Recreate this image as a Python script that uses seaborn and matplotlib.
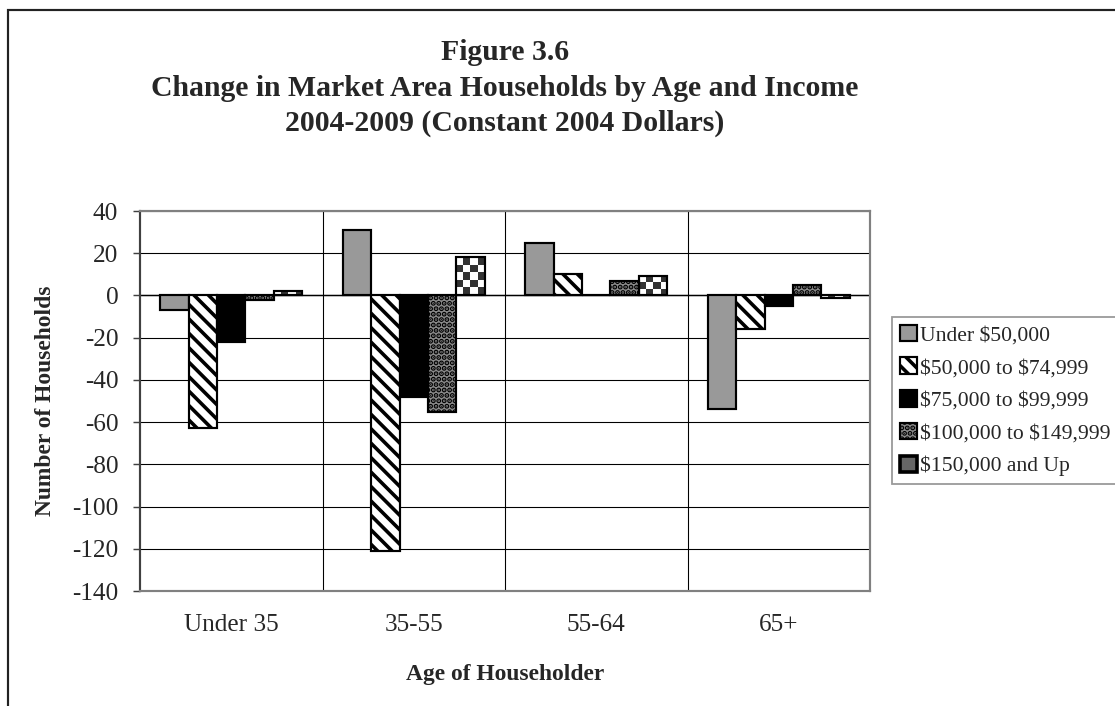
import numpy as np
import pandas as pd
import matplotlib
matplotlib.use("Agg")
import matplotlib.pyplot as plt
from matplotlib.patches import Patch, Rectangle
from matplotlib.colors import ListedColormap
import seaborn as sns

# data (number of households, change 2004-2009)
ages = ["Under 35", "35-55", "55-64", "65+"]
incomes = ["Under $50,000", "$50,000 to $74,999", "$75,000 to $99,999",
           "$100,000 to $149,999", "$150,000 and Up"]
under_50k = [-7, 31, 25, -54]
inc_50_75k = [-63, -121, 10, -16]
inc_75_100k = [-22, -48, 0, -5]
inc_100_150k = [-2, -55, 7, 5]
inc_150k_up = [2, 18, 9, -1]
y_ticks = list(range(-140, 41, 20))

series = [under_50k, inc_50_75k, inc_75_100k, inc_100_150k, inc_150k_up]
df = pd.DataFrame({
    "age": ages * len(incomes),
    "income": [inc for inc in incomes for _ in ages],
    "change": [v for s in series for v in s],
})

sns.set_style("white")
plt.rcParams["font.family"] = ["Liberation Serif", "DejaVu Serif"]
plt.rcParams["text.parse_math"] = False
plt.rcParams["axes.unicode_minus"] = False
plt.rcParams["hatch.linewidth"] = 2.0

W, H, DPI = 1115, 706, 130
fig = plt.figure(figsize=(W / DPI, H / DPI), dpi=DPI)
ax = fig.add_axes([140 / W, 1 - 591 / H, 730 / W, 380 / H])

# fill / hatch per income band
styles = [
    dict(facecolor="#999999", hatch=None),
    dict(facecolor="white", hatch="\\\\\\"),
    dict(facecolor="black", hatch=None),
    dict(facecolor="#8c8c8c", hatch="...."),
    dict(facecolor="none", hatch=None),
]

sns.barplot(data=df, x="age", y="change", hue="income", order=ages,
            hue_order=incomes, width=0.78, errorbar=None, legend=False,
            palette=["#999999"] * 5, saturation=1, edgecolor="black",
            linewidth=1.2, ax=ax)

for cont, st in zip(ax.containers, styles):
    for bar in cont:
        bar.set_facecolor(st["facecolor"])
        if st["hatch"]:
            bar.set_hatch(st["hatch"])

ax.set_xlim(-0.5, len(ages) - 0.5)
ax.set_ylim(-140, 40)
ax.set_yticks(y_ticks)
ax.set_xticks(np.arange(len(ages) - 1) + 0.5, minor=True)

# checkerboard fill for the top income band, clipped to each bar
checker_cmap = ListedColormap(["white", "#333333"])
for bar in ax.containers[4]:
    bb = bar.get_window_extent()
    nc = max(1, int(round(bb.width / 7)))
    nr = max(1, int(round(abs(bb.height) / 7)))
    grid = np.indices((nr, nc)).sum(axis=0) % 2
    x0, w = bar.get_x(), bar.get_width()
    y0, h = bar.get_y(), bar.get_height()
    im = ax.imshow(grid, cmap=checker_cmap, aspect="auto",
                   interpolation="nearest", origin="upper",
                   extent=(x0, x0 + w, min(y0, y0 + h), max(y0, y0 + h)),
                   zorder=bar.get_zorder() - 0.01)
    im.set_clip_path(bar)
ax.set_xlim(-0.5, len(ages) - 0.5)
ax.set_ylim(-140, 40)

ax.set_axisbelow(True)
ax.grid(axis="y", which="major", color="black", lw=0.6)
ax.grid(axis="x", which="minor", color="black", lw=0.6)
ax.grid(axis="x", which="major", visible=False)
ax.axhline(0, color="black", lw=0.8, zorder=0.6)

for side in ["top", "right", "bottom"]:
    ax.spines[side].set_color("#808080")
    ax.spines[side].set_linewidth(1.2)
ax.spines["left"].set_color("#404040")
ax.spines["left"].set_linewidth(1.2)

ax.tick_params(axis="y", which="major", left=True, length=4, width=0.8,
               color="#404040", pad=8, labelsize=14)
ax.tick_params(axis="x", which="both", bottom=False, length=0, pad=13,
               labelsize=14)

ax.set_xlabel("Age of Householder", fontsize=13, fontweight="bold")
ax.xaxis.set_label_coords(0.5, -0.221)
ax.xaxis.label.set_va("center")
ax.set_ylabel("Number of Households", fontsize=13, fontweight="bold")
ax.yaxis.set_label_coords(-0.130, 0.5)
ax.yaxis.label.set_va("center")

# legend
handles = []
for st in styles[:4]:
    handles.append(Patch(facecolor=st["facecolor"], hatch=st["hatch"],
                         edgecolor="black", linewidth=1.2))
handles.append(Patch(facecolor="#666666", edgecolor="black", linewidth=2.0))
leg = fig.legend(handles, incomes, loc="upper left",
                 bbox_to_anchor=(892 / W, 1 - 317 / H), fontsize=12,
                 frameon=True, fancybox=False, shadow=False,
                 handlelength=0.8, handleheight=0.8, handletextpad=0.15,
                 labelspacing=0.55, borderpad=0.35, borderaxespad=0)
leg.get_frame().set_edgecolor("#808080")
leg.get_frame().set_linewidth(1.0)

# titles
title_x = (140 + 870) / 2 / W
fig.text(title_x, 1 - 53 / H, "Figure 3.6", ha="center", va="center",
         fontsize=16.5, fontweight="bold")
fig.text(title_x, 1 - 88 / H,
         "Change in Market Area Households by Age and Income",
         ha="center", va="center", fontsize=16.5, fontweight="bold")
fig.text(title_x, 1 - 123 / H, "2004-2009 (Constant 2004 Dollars)",
         ha="center", va="center", fontsize=16.5, fontweight="bold")

# outer chart border (only top and left visible in the crop)
fig.add_artist(Rectangle((8 / W, -0.05), 1.2, 1 - 10 / H + 0.05,
                         transform=fig.transFigure, fill=False,
                         edgecolor="#222222", lw=1.2))

fig.savefig("out.png", dpi=DPI)
